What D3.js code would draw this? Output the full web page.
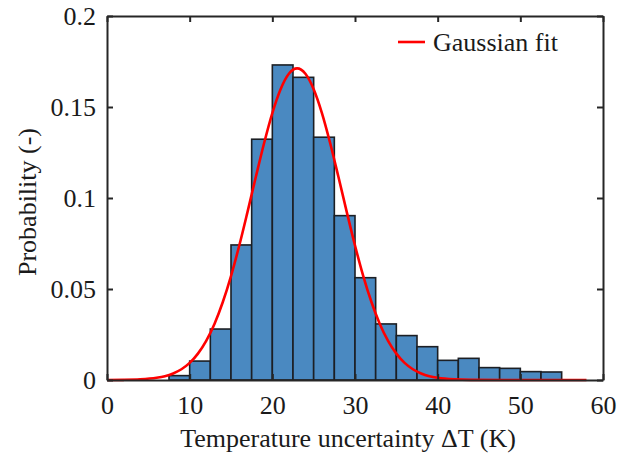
<!DOCTYPE html>
<html>
<head>
<meta charset="utf-8">
<script src="https://cdn.jsdelivr.net/npm/d3@7"></script>
<style>
  body { margin: 0; background: #fff; }
  svg text { font-family: "Liberation Serif", "Times New Roman", serif; fill: #1a1a1a; }
</style>
</head>
<body>
<svg id="chart" width="629" height="457"></svg>
<script>
// histogram bins (K) and probabilities
const binEdges = [7.5, 10, 12.5, 15, 17.5, 20, 22.5, 25, 27.5, 30, 32.5, 35, 37.5, 40, 42.5, 45, 47.5, 50, 52.5, 55];
const binProb = [0.0024, 0.0104, 0.028, 0.0742, 0.1323, 0.1731, 0.1663, 0.1334, 0.0903, 0.0562, 0.0308, 0.0244, 0.0183, 0.0108, 0.0119, 0.0068, 0.0064, 0.0046, 0.0044];

// points along the red fit curve
const fitX = [0, 2, 4, 6, 7, 8, 9, 10, 11, 12, 13, 14, 15, 16, 17, 18, 19, 20, 21, 22, 23, 24, 25, 26, 27, 28, 29, 30, 31, 32, 33, 34, 35, 36, 37, 38, 39, 40, 42, 44, 48, 52, 58];
const fitY = [0.00002, 0.00009, 0.00035, 0.0012, 0.0021, 0.0036, 0.0059, 0.0094, 0.0145, 0.0215, 0.0308, 0.0427, 0.0571, 0.0739, 0.0924, 0.1115, 0.1301, 0.1467, 0.1598, 0.1683, 0.1712, 0.1683, 0.1598, 0.1467, 0.1301, 0.1115, 0.0924, 0.0739, 0.0571, 0.0427, 0.0308, 0.0215, 0.0145, 0.0094, 0.0059, 0.0036, 0.0021, 0.0012, 0.00035, 0.00009, 0.00001, 0, 0];

const xTicks = [0, 10, 20, 30, 40, 50, 60];
const yTicks = [0, 0.05, 0.1, 0.15, 0.2];
const yTickLabels = ["0", "0.05", "0.1", "0.15", "0.2"];

const svg = d3.select("#chart");
const margin = { left: 107, right: 26, top: 16, bottom: 77 };
const W = 629, H = 457;
const FS = 26;

const x = d3.scaleLinear().domain([0, 60]).range([margin.left, W - margin.right]);
const y = d3.scaleLinear().domain([0, 0.2]).range([H - margin.bottom, margin.top]);

const AXIS = "#262626";
const TICK = 6;

// bars
const bins = binProb.map((p, i) => ({ x0: binEdges[i], x1: binEdges[i + 1], p }));
svg.append("g")
  .selectAll("rect")
  .data(bins)
  .join("rect")
  .attr("x", d => x(d.x0))
  .attr("y", d => y(d.p))
  .attr("width", d => x(d.x1) - x(d.x0))
  .attr("height", d => y(0) - y(d.p))
  .attr("fill", "#4a89c1")
  .attr("stroke", "#1c1f24")
  .attr("stroke-width", 1.6);

// fit curve
const line = d3.line()
  .x(d => x(d[0]))
  .y(d => y(d[1]))
  .curve(d3.curveMonotoneX);

svg.append("path")
  .datum(fitX.map((v, i) => [v, fitY[i]]))
  .attr("d", line)
  .attr("fill", "none")
  .attr("stroke", "#ff0000")
  .attr("stroke-width", 2.6);

// axes box with inward ticks
const xAxisB = d3.axisBottom(x).tickValues(xTicks).tickSizeInner(-TICK).tickSizeOuter(0).tickPadding(16);
const xAxisT = d3.axisTop(x).tickValues(xTicks).tickSizeInner(-TICK).tickSizeOuter(0).tickFormat("");
const yAxisL = d3.axisLeft(y).tickValues(yTicks).tickSizeInner(-TICK).tickSizeOuter(0).tickPadding(11)
  .tickFormat((d, i) => yTickLabels[i]);
const yAxisR = d3.axisRight(y).tickValues(yTicks).tickSizeInner(-TICK).tickSizeOuter(0).tickFormat("");

function style(g) {
  g.attr("font-family", null).attr("font-size", null);
  g.select(".domain").attr("stroke", AXIS).attr("stroke-width", 2);
  g.selectAll(".tick line").attr("stroke", AXIS).attr("stroke-width", 2);
  g.selectAll(".tick text")
    .attr("font-size", FS)
    .attr("font-family", "Liberation Serif")
    .attr("fill", "#1a1a1a");
}

svg.append("g").attr("transform", `translate(0,${y(0)})`).call(xAxisB).call(style);
svg.append("g").attr("transform", `translate(0,${y(0.2)})`).call(xAxisT).call(style);
svg.append("g").attr("transform", `translate(${x(0)},0)`).call(yAxisL).call(style);
svg.append("g").attr("transform", `translate(${x(60)},0)`).call(yAxisR).call(style);

// axis labels
svg.append("text")
  .attr("x", 348)
  .attr("y", 447)
  .attr("text-anchor", "middle")
  .attr("font-size", FS)
  .text("Temperature uncertainty \u0394T (K)");

svg.append("text")
  .attr("transform", `translate(36,${(y(0) + y(0.2)) / 2 + 4}) rotate(-90)`)
  .attr("text-anchor", "middle")
  .attr("font-size", FS)
  .text("Probability (-)");

// legend
const leg = svg.append("g").attr("transform", "translate(398,42)");
leg.append("line").attr("x1", 0).attr("x2", 27).attr("y1", 0).attr("y2", 0)
  .attr("stroke", "#ff0000").attr("stroke-width", 2.6);
leg.append("text").attr("x", 35).attr("y", 9).attr("font-size", FS).text("Gaussian fit");
</script>
</body>
</html>
